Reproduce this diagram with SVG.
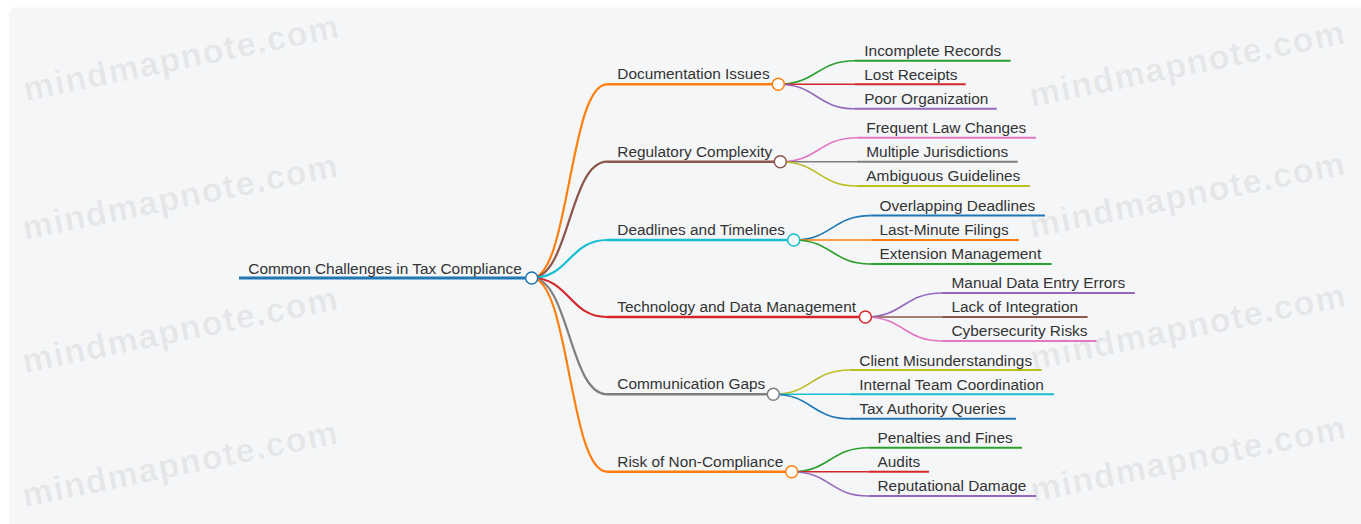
<svg xmlns="http://www.w3.org/2000/svg" width="1361" height="524" viewBox="0 0 1361 524">
  <style>
    .t { font-family: "Liberation Sans", Arial, Helvetica, sans-serif; font-size: 15.4px; fill: #333; }
    .wm { font-family: "Liberation Sans", Arial, Helvetica, sans-serif; font-size: 34px; font-weight: bold; letter-spacing: 1.3px; fill: #000; fill-opacity: 0.065; }
    .dot { fill: #fff; stroke-width: 1.5; }
    .l0 { stroke-width: 3.2; fill: none; }
    .l1 { stroke-width: 2.4; fill: none; }
    .l2 { stroke-width: 2; fill: none; }
    .k1 { stroke-width: 2.2; fill: none; }
    .k2 { stroke-width: 1.6; fill: none; }
  </style>

  <!-- page and card -->
  <rect x="0" y="0" width="1361" height="524" fill="#ffffff"/>
  <rect x="9" y="7.5" width="1360" height="530" rx="8" fill="#f5f6f8"/>

  <!-- watermark -->
  <g id="watermark">
    <text class="wm" transform="translate(26 101) rotate(-11.5)">mindmapnote.com</text>
    <text class="wm" transform="translate(25 240) rotate(-11.5)">mindmapnote.com</text>
    <text class="wm" transform="translate(25 373) rotate(-11.5)">mindmapnote.com</text>
    <text class="wm" transform="translate(25 507) rotate(-11.5)">mindmapnote.com</text>
    <text class="wm" transform="translate(1032 107) rotate(-11.5)">mindmapnote.com</text>
    <text class="wm" transform="translate(1032 238) rotate(-11.5)">mindmapnote.com</text>
    <text class="wm" transform="translate(1033 370) rotate(-11.5)">mindmapnote.com</text>
    <text class="wm" transform="translate(1033 502) rotate(-11.5)">mindmapnote.com</text>
  </g>

  <!-- connectors -->
  <g id="connectors">
    <!-- root to first level -->
    <path class="k1" stroke="#ff7f0e" d="M531.7 278 C569.35 278 569.35 84.3 607 84.3"/>
    <path class="k1" stroke="#8c564b" d="M531.7 278 C569.35 278 569.35 161.7 607 161.7"/>
    <path class="k1" stroke="#17becf" d="M531.7 278 C569.35 278 569.35 240 607 240"/>
    <path class="k1" stroke="#d62728" d="M531.7 278 C569.35 278 569.35 317 607 317"/>
    <path class="k1" stroke="#7f7f7f" d="M531.7 278 C569.35 278 569.35 394.3 607 394.3"/>
    <path class="k1" stroke="#ff7f0e" d="M531.7 278 C569.35 278 569.35 471.7 607 471.7"/>
    <!-- Documentation Issues -->
    <path class="k2" stroke="#2ca02c" d="M778.3 84.3 C816.65 84.3 816.65 60.7 855 60.7"/>
    <path class="k2" stroke="#d62728" d="M778.3 84.3 C816.65 84.3 816.65 84.3 855 84.3"/>
    <path class="k2" stroke="#9467bd" d="M778.3 84.3 C816.65 84.3 816.65 108.7 855 108.7"/>
    <!-- Regulatory Complexity -->
    <path class="k2" stroke="#e377c2" d="M780.3 161.7 C818.65 161.7 818.65 137.7 857 137.7"/>
    <path class="k2" stroke="#7f7f7f" d="M780.3 161.7 C818.65 161.7 818.65 161.7 857 161.7"/>
    <path class="k2" stroke="#bcbd22" d="M780.3 161.7 C818.65 161.7 818.65 186 857 186"/>
    <!-- Deadlines and Timelines -->
    <path class="k2" stroke="#1f77b4" d="M793.7 240 C832.05 240 832.05 215.6 870.4 215.6"/>
    <path class="k2" stroke="#ff7f0e" d="M793.7 240 C832.05 240 832.05 240 870.4 240"/>
    <path class="k2" stroke="#2ca02c" d="M793.7 240 C832.05 240 832.05 264 870.4 264"/>
    <!-- Technology and Data Management -->
    <path class="k2" stroke="#9467bd" d="M865.4 317 C903.75 317 903.75 293 942.1 293"/>
    <path class="k2" stroke="#8c564b" d="M865.4 317 C903.75 317 903.75 317 942.1 317"/>
    <path class="k2" stroke="#e377c2" d="M865.4 317 C903.75 317 903.75 341 942.1 341"/>
    <!-- Communication Gaps -->
    <path class="k2" stroke="#bcbd22" d="M773.3 394.3 C811.65 394.3 811.65 370 850 370"/>
    <path class="k2" stroke="#17becf" d="M773.3 394.3 C811.65 394.3 811.65 394.3 850 394.3"/>
    <path class="k2" stroke="#1f77b4" d="M773.3 394.3 C811.65 394.3 811.65 418.7 850 418.7"/>
    <!-- Risk of Non-Compliance -->
    <path class="k2" stroke="#2ca02c" d="M791.7 471.7 C830.05 471.7 830.05 447.7 868.4 447.7"/>
    <path class="k2" stroke="#d62728" d="M791.7 471.7 C830.05 471.7 830.05 471.7 868.4 471.7"/>
    <path class="k2" stroke="#9467bd" d="M791.7 471.7 C830.05 471.7 830.05 496 868.4 496"/>
  </g>

  <!-- root -->
  <g id="root">
    <line class="l0" stroke="#1f77b4" x1="239" y1="278" x2="531.7" y2="278"/>
    <text class="t" x="248.3" y="274">Common Challenges in Tax Compliance</text>
    <circle class="dot" stroke="#1f77b4" cx="531.7" cy="278" r="6"/>
  </g>

  <!-- first level -->
  <g id="documentation-issues">
    <line class="l1" stroke="#ff7f0e" x1="607" y1="84.3" x2="778.3" y2="84.3"/>
    <text class="t" x="617.3" y="79.3">Documentation Issues</text>
    <circle class="dot" stroke="#ff7f0e" cx="778.3" cy="84.3" r="6"/>
  </g>
  <g id="regulatory-complexity">
    <line class="l1" stroke="#8c564b" x1="607" y1="161.7" x2="780.3" y2="161.7"/>
    <text class="t" x="617.3" y="156.7">Regulatory Complexity</text>
    <circle class="dot" stroke="#8c564b" cx="780.3" cy="161.7" r="6"/>
  </g>
  <g id="deadlines-and-timelines">
    <line class="l1" stroke="#17becf" x1="607" y1="240" x2="793.7" y2="240"/>
    <text class="t" x="617.3" y="235">Deadlines and Timelines</text>
    <circle class="dot" stroke="#17becf" cx="793.7" cy="240" r="6"/>
  </g>
  <g id="technology-and-data-management">
    <line class="l1" stroke="#d62728" x1="607" y1="317" x2="865.4" y2="317"/>
    <text class="t" x="617.3" y="312">Technology and Data Management</text>
    <circle class="dot" stroke="#d62728" cx="865.4" cy="317" r="6"/>
  </g>
  <g id="communication-gaps">
    <line class="l1" stroke="#7f7f7f" x1="607" y1="394.3" x2="773.3" y2="394.3"/>
    <text class="t" x="617.3" y="389.3">Communication Gaps</text>
    <circle class="dot" stroke="#7f7f7f" cx="773.3" cy="394.3" r="6"/>
  </g>
  <g id="risk-of-non-compliance">
    <line class="l1" stroke="#ff7f0e" x1="607" y1="471.7" x2="791.7" y2="471.7"/>
    <text class="t" x="617.3" y="466.7">Risk of Non-Compliance</text>
    <circle class="dot" stroke="#ff7f0e" cx="791.7" cy="471.7" r="6"/>
  </g>

  <!-- second level: Documentation Issues -->
  <g id="incomplete-records">
    <line class="l2" stroke="#2ca02c" x1="855" y1="60.7" x2="1010.7" y2="60.7"/>
    <text class="t" x="864.3" y="56">Incomplete Records</text>
  </g>
  <g id="lost-receipts">
    <line class="l2" stroke="#d62728" x1="855" y1="84.3" x2="965.7" y2="84.3"/>
    <text class="t" x="864.3" y="79.6">Lost Receipts</text>
  </g>
  <g id="poor-organization">
    <line class="l2" stroke="#9467bd" x1="855" y1="108.7" x2="996.7" y2="108.7"/>
    <text class="t" x="864.3" y="104">Poor Organization</text>
  </g>

  <!-- second level: Regulatory Complexity -->
  <g id="frequent-law-changes">
    <line class="l2" stroke="#e377c2" x1="857" y1="137.7" x2="1036" y2="137.7"/>
    <text class="t" x="866.3" y="133">Frequent Law Changes</text>
  </g>
  <g id="multiple-jurisdictions">
    <line class="l2" stroke="#7f7f7f" x1="857" y1="161.7" x2="1017.7" y2="161.7"/>
    <text class="t" x="866.3" y="157">Multiple Jurisdictions</text>
  </g>
  <g id="ambiguous-guidelines">
    <line class="l2" stroke="#bcbd22" x1="857" y1="186" x2="1030" y2="186"/>
    <text class="t" x="866.3" y="181.3">Ambiguous Guidelines</text>
  </g>

  <!-- second level: Deadlines and Timelines -->
  <g id="overlapping-deadlines">
    <line class="l2" stroke="#1f77b4" x1="870.4" y1="215.6" x2="1045" y2="215.6"/>
    <text class="t" x="879.5" y="210.9">Overlapping Deadlines</text>
  </g>
  <g id="last-minute-filings">
    <line class="l2" stroke="#ff7f0e" x1="870.4" y1="240" x2="1019" y2="240"/>
    <text class="t" x="879.5" y="235.3">Last-Minute Filings</text>
  </g>
  <g id="extension-management">
    <line class="l2" stroke="#2ca02c" x1="870.4" y1="264" x2="1051.7" y2="264"/>
    <text class="t" x="879.5" y="259.3">Extension Management</text>
  </g>

  <!-- second level: Technology and Data Management -->
  <g id="manual-data-entry-errors">
    <line class="l2" stroke="#9467bd" x1="942.1" y1="293" x2="1134.8" y2="293"/>
    <text class="t" x="951.5" y="288.3">Manual Data Entry Errors</text>
  </g>
  <g id="lack-of-integration">
    <line class="l2" stroke="#8c564b" x1="942.1" y1="317" x2="1087.6" y2="317"/>
    <text class="t" x="951.5" y="312.3">Lack of Integration</text>
  </g>
  <g id="cybersecurity-risks">
    <line class="l2" stroke="#e377c2" x1="942.1" y1="341" x2="1096.6" y2="341"/>
    <text class="t" x="951.5" y="336.3">Cybersecurity Risks</text>
  </g>

  <!-- second level: Communication Gaps -->
  <g id="client-misunderstandings">
    <line class="l2" stroke="#bcbd22" x1="850" y1="370" x2="1041.7" y2="370"/>
    <text class="t" x="859.3" y="365.5">Client Misunderstandings</text>
  </g>
  <g id="internal-team-coordination">
    <line class="l2" stroke="#17becf" x1="850" y1="394.3" x2="1054" y2="394.3"/>
    <text class="t" x="859.3" y="389.6">Internal Team Coordination</text>
  </g>
  <g id="tax-authority-queries">
    <line class="l2" stroke="#1f77b4" x1="850" y1="418.7" x2="1016" y2="418.7"/>
    <text class="t" x="859.3" y="414">Tax Authority Queries</text>
  </g>

  <!-- second level: Risk of Non-Compliance -->
  <g id="penalties-and-fines">
    <line class="l2" stroke="#2ca02c" x1="868.4" y1="447.7" x2="1022" y2="447.7"/>
    <text class="t" x="877.5" y="443">Penalties and Fines</text>
  </g>
  <g id="audits">
    <line class="l2" stroke="#d62728" x1="868.4" y1="471.7" x2="929" y2="471.7"/>
    <text class="t" x="877.5" y="467">Audits</text>
  </g>
  <g id="reputational-damage">
    <line class="l2" stroke="#9467bd" x1="868.4" y1="496" x2="1036" y2="496"/>
    <text class="t" x="877.5" y="491.3">Reputational Damage</text>
  </g>
</svg>
